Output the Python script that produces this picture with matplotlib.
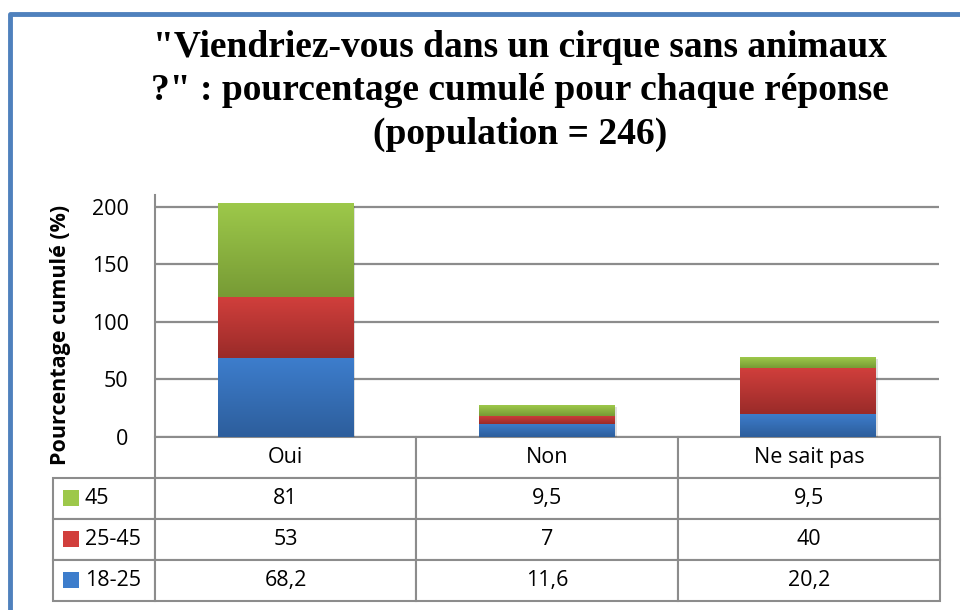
import numpy as np
import matplotlib
matplotlib.use("Agg")
import matplotlib.pyplot as plt
from matplotlib.colors import LinearSegmentedColormap
from matplotlib.lines import Line2D
from matplotlib.patches import Rectangle

categories = ["Oui", "Non", "Ne sait pas"]
age_18_25 = [68.2, 11.6, 20.2]
age_25_45 = [53, 7, 40]
age_45 = [81, 9.5, 9.5]
series_labels = ["18-25", "25-45", "45"]
yticks = [0, 50, 100, 150, 200]

def fmt(v):
    return ("%g" % v).replace(".", ",")

# couleurs (haut, bas) du degrade
grad_colors = [("#3D7DCC", "#2D5E9C"), ("#D13F3C", "#9A2B29"), ("#9DC84A", "#779B35")]

plt.rcParams["font.family"] = ["Open Sans", "DejaVu Sans"]

fig = plt.figure(figsize=(9.6, 6.1), dpi=100)
ax = fig.add_axes([155 / 960, 1 - 437 / 610, 784 / 960, 242 / 610])

x = np.arange(len(categories))
width = 0.52
bottom = np.zeros(len(categories))
series = [age_18_25, age_25_45, age_45]
for vals, (ctop, cbot) in zip(series, grad_colors):
    bars = ax.bar(x, vals, width, bottom=bottom, color=ctop, zorder=3, linewidth=0)
    cmap = LinearSegmentedColormap.from_list("g", [cbot, ctop])
    grad = np.linspace(0, 1, 64).reshape(-1, 1)
    for b in bars:
        ax.imshow(grad, extent=[b.get_x(), b.get_x() + b.get_width(), b.get_y(), b.get_y() + b.get_height()],
                  cmap=cmap, origin="lower", aspect="auto", zorder=3.5)
    bottom = bottom + np.array(vals)

# ombre legere des barres
for xi, tot in zip(x, bottom):
    ax.add_patch(Rectangle((xi - width / 2 + 0.006, -2), width, tot, facecolor="#000000",
                           alpha=0.12, linewidth=0, zorder=2))

ax.set_xlim(-0.5, 2.5)
ax.set_ylim(0, 210)
ax.set_yticks(yticks)
ax.set_xticks([])
ax.tick_params(axis="y", length=0, pad=19, labelsize=15.5)
ax.yaxis.grid(True, color="#8C8C8C", linewidth=1.6, zorder=0)
ax.set_axisbelow(True)
for s in ["top", "right", "bottom"]:
    ax.spines[s].set_visible(False)
ax.spines["left"].set_color("#8C8C8C")
ax.spines["left"].set_linewidth(1.5)

ax.set_ylabel("Pourcentage cumulé (%)", fontsize=15.5, fontweight="bold")
ax.yaxis.set_label_coords(-0.107, 0.42)

# tableau de donnees
rows = [[""] + categories]
for lab, vals in zip(series_labels[::-1], series[::-1]):
    rows.append([lab] + [fmt(v) for v in vals])
tab = ax.table(cellText=rows, colWidths=[102, 261, 262, 262], cellLoc="center",
               bbox=[-102 / 784, -164 / 242, 887 / 784, 164 / 242])
tab.auto_set_font_size(False)
tab.set_fontsize(15.5)
for (r, c), cell in tab.get_celld().items():
    cell.set_edgecolor("#8C8C8C")
    cell.set_linewidth(1.5)
    if r == 0 and c == 0:
        cell.set_visible(False)
    if c == 0 and r > 0:
        cell._loc = "left"
        cell.PAD = 0.31
        cell.get_text().set_ha("left")

# carres de legende
for i, (ctop, cbot) in enumerate(grad_colors[::-1]):
    yc = (437 - (477 + 41 * i + 21)) / 242
    ax.add_patch(Rectangle((-92 / 784, yc - 8 / 242), 16 / 784, 16 / 242,
                           transform=ax.transAxes, clip_on=False,
                           facecolor=ctop, edgecolor="none"))

fig.text(520 / 960, 1 - 91 / 610,
         "\"Viendriez-vous dans un cirque sans animaux\n?\" : pourcentage cumulé pour chaque réponse\n(population = 246)",
         ha="center", va="center", fontsize=27, fontweight="bold",
         family="Liberation Serif", linespacing=1.33)

# cadre bleu
fig.add_artist(Line2D([9.5 / 960, 9.5 / 960, 1.0], [0, 1 - 13.5 / 610, 1 - 13.5 / 610],
                      transform=fig.transFigure, color="#4F81BD", linewidth=3.5))

fig.savefig("out.png", dpi=100)
